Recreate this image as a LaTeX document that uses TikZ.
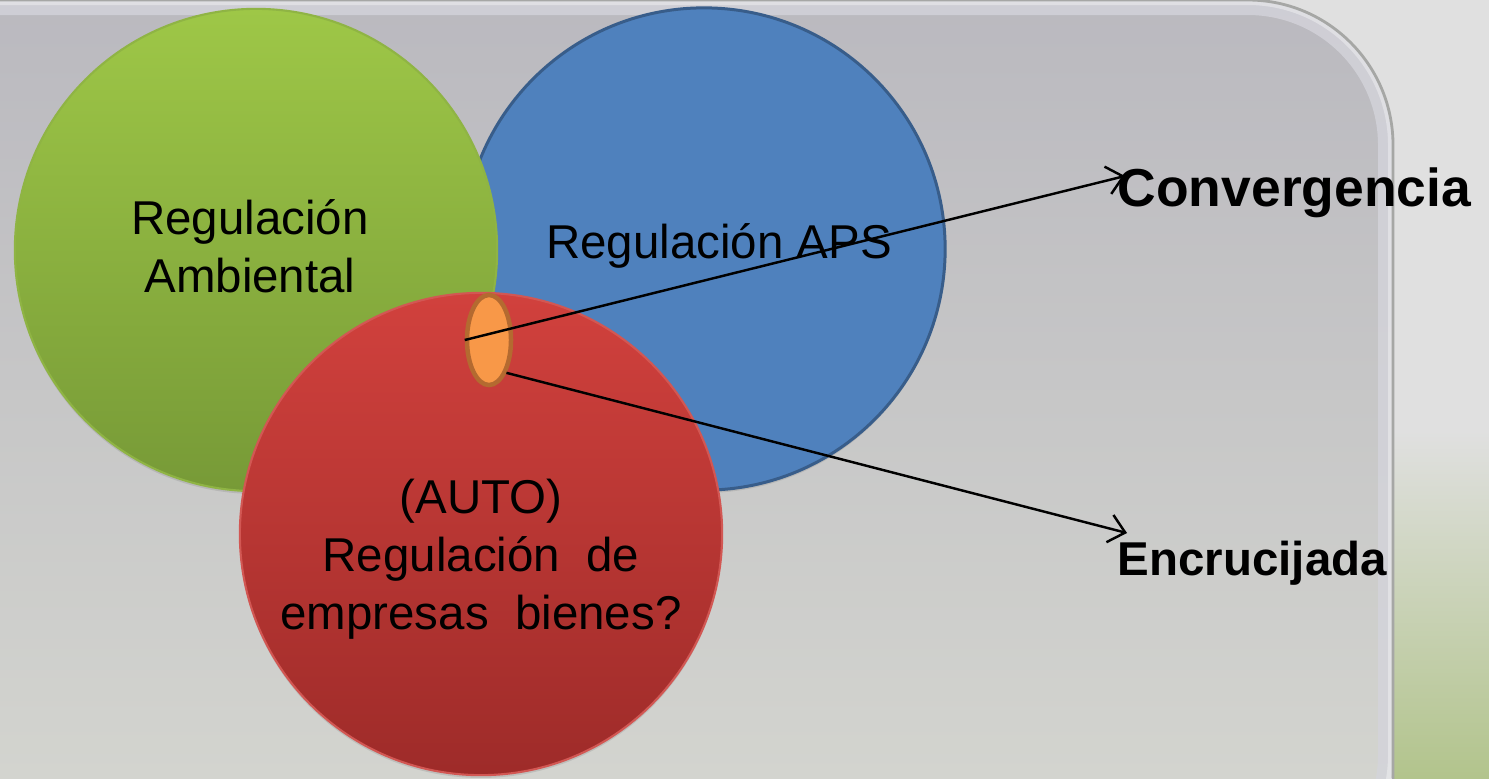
\documentclass[tikz,border=0pt]{standalone}
\usepackage{fontspec}
\setmainfont{Liberation Sans}
\usepackage{xcolor}
\usepackage{tikz}
\usetikzlibrary{positioning}
\usetikzlibrary{arrows.meta, shapes.geometric, calc, shadows}

\definecolor{bgRight}{HTML}{E0E0E0}
\definecolor{bgGreen}{HTML}{B2C48C}
\definecolor{panelBand}{HTML}{D4D4DB}
\definecolor{panelTop}{HTML}{BAB9BF}
\definecolor{panelMid}{HTML}{D7D7DF}
\definecolor{panelBot}{HTML}{D3D4CF}
\definecolor{panelEdge}{HTML}{A6A7A5}
\definecolor{ambTop}{HTML}{9EC747}
\definecolor{ambBot}{HTML}{779A37}
\definecolor{ambLine}{HTML}{8FB444}
\definecolor{apsBlue}{HTML}{4F81BD}
\definecolor{apsLine}{HTML}{385D8A}
\definecolor{autoTop}{HTML}{D1413D}
\definecolor{autoBot}{HTML}{9E2B29}
\definecolor{autoLine}{HTML}{D25753}
\definecolor{nexoFill}{HTML}{F89848}
\definecolor{nexoLine}{HTML}{B46A30}

\begin{document}
\begin{tikzpicture}[x=0.01cm, y=-0.01cm,
    set/.style={circle, minimum size=4.82cm, inner sep=0pt,
        drop shadow={opacity=0.25, shadow xshift=0pt, shadow yshift=-0.8pt}},
    lbl/.style={align=center, inner sep=0pt, font=\fontsize{13.5}{16.5}\selectfont},
    res/.style={anchor=west, inner sep=0pt, font=\bfseries\fontsize{13.5}{16.5}\selectfont},
    link/.style={-{Straight Barb[length=4.5pt, width=8pt]}, line width=0.7pt}]
        \clip (0,0) rectangle (1489,778);
        \begin{scope}
            \fill[bgRight] (0,0) rectangle (1489,778);
            \shade[top color=bgRight, bottom color=bgGreen] (1393,430) rectangle (1489,778);
        \end{scope}
        \begin{scope}
            \clip[rounded corners=1.45cm] (-300,0) -- (1393,0) -- (1393,900) -- (-300,900) -- cycle;
            \shade[top color=panelTop, middle color=panelMid, bottom color=panelBot] (-300,0) rectangle (1393,778);
            \draw[rounded corners=1.45cm, line width=0.3cm, panelBand, opacity=0.8]
                (-300,0) -- (1393,0) -- (1393,900) -- (-300,900) -- cycle;
            \draw[rounded corners=1.45cm, line width=0.1cm, white, opacity=0.35]
                (-300,0) -- (1393,0) -- (1393,900) -- (-300,900) -- cycle;
        \end{scope}
        \draw[rounded corners=1.45cm, panelEdge, line width=0.8pt]
            (-300,0) -- (1393,0) -- (1393,900);

        \begin{scope}
            \node[set, fill=apsBlue, draw=apsLine, line width=0.03cm] (aps) at (704,249) {};
            \node[set, top color=ambTop, bottom color=ambBot, draw=ambLine, line width=0.6pt] (amb) at (256,250) {};
            \node[set, top color=autoTop, bottom color=autoBot, draw=autoLine, line width=0.6pt] (auto) at (481,534) {};
            \node[ellipse, minimum width=0.44cm, minimum height=0.9cm, inner sep=0pt,
                fill=nexoFill, draw=nexoLine, line width=0.045cm] (nexo) at (489,340) {};
        \end{scope}

        \node[lbl] (ambtxt) at (250,246) {Regulación\\Ambiental};
        \node[lbl] (apstxt) at (719,246) {Regulación APS};
        \node[lbl] (autotxt) at (481,559) {(AUTO)\\Regulación\ \ de\\empresas\ \ bienes?};
        \node[res, font=\bfseries\fontsize{15.2}{18}\selectfont] (conv) at (1117,193) {Convergencia};
        \node[res] (encr) at (1117,563) {Encrucijada};

        \draw[link] (nexo.west) -- ($(conv.west)+(8,-17)$);
        \draw[link] (nexo.-62) -- ($(encr.west)+(10,-30)$);
    \end{tikzpicture}
\end{document}
